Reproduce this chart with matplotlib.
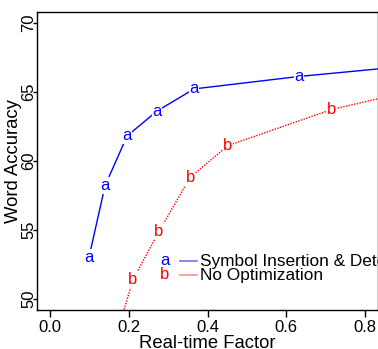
import matplotlib
matplotlib.use("Agg")
import matplotlib.pyplot as plt

plt.rcParams['font.family'] = ['Liberation Sans', 'DejaVu Sans']

# Data
rtf_opt = [0.099, 0.140, 0.196, 0.272, 0.366, 0.632, 1.000]
acc_opt = [53.0, 58.2, 61.8, 63.6, 65.2, 66.1, 67.1]
rtf_noopt = [0.170, 0.211, 0.277, 0.356, 0.452, 0.714, 1.000]
acc_noopt = [47.5, 51.4, 54.9, 58.8, 61.1, 63.7, 65.6]

label_opt = "Symbol Insertion & Determinization"
label_noopt = "No Optimization"
xticks = [0.0, 0.2, 0.4, 0.6, 0.8]
yticks = [50, 55, 60, 65, 70]
xlim = (-0.032, 0.832)
ylim = (49.2, 70.8)

fig = plt.figure(figsize=(3.78, 3.49), dpi=100)
ax = fig.add_axes([0.0987, 0.1117, 0.9005, 0.8553])

blue = '#0000FF'
red = '#FF0000'

ax.plot(rtf_opt, acc_opt, color=blue, lw=1.0, ls='-', zorder=2)
ax.plot(rtf_noopt, acc_noopt, color=red, lw=1.0, ls=(0, (1, 1)), zorder=2)


def inside(x, y):
    return xlim[0] <= x <= xlim[1] and ylim[0] <= y <= ylim[1]


for x, y in zip(rtf_opt, acc_opt):
    if inside(x, y):
        ax.text(x, y, 'a', color=blue, fontsize=12, ha='center', va='center',
                bbox=dict(facecolor='white', edgecolor='none', pad=0.5), zorder=3, clip_on=True)
for x, y in zip(rtf_noopt, acc_noopt):
    if inside(x, y):
        ax.text(x, y, 'b', color=red, fontsize=12, ha='center', va='center',
                bbox=dict(facecolor='white', edgecolor='none', pad=0.5), zorder=3, clip_on=True)

ax.set_xlim(*xlim)
ax.set_ylim(*ylim)
ax.set_xticks(xticks)
ax.set_xticklabels([f"{t:.1f}" for t in xticks])
ax.set_yticks(yticks)
ax.set_yticklabels([str(t) for t in yticks], rotation=90, va='center')
ax.tick_params(axis='x', direction='out', length=5, width=1, labelsize=12, pad=2, color='black')
ax.tick_params(axis='y', direction='out', length=3, width=1, labelsize=12, pad=-2, color='black')
for s in ax.spines.values():
    s.set_linewidth(1)
    s.set_color('black')

ax.set_xlabel("Real-time Factor", fontsize=13.3, va='baseline')
ax.xaxis.set_label_coords(0.5, -0.126)
ax.set_ylabel("Word Accuracy", fontsize=13.3, va='center')
ax.yaxis.set_label_coords(-0.070, 0.5)

# Legend (no frame), clipped at the plot region like the original
ax.text(0.375, 0.1675, 'a', color=blue, fontsize=12, ha='center', va='center',
        transform=ax.transAxes, clip_on=True)
ax.text(0.375, 0.1206, 'b', color=red, fontsize=12, ha='center', va='center',
        transform=ax.transAxes, clip_on=True)
ax.plot([0.419, 0.469], [0.164, 0.164], color='#7070FF', lw=1.2, transform=ax.transAxes)
ax.plot([0.419, 0.469], [0.117, 0.117], color='#FF9090', lw=1.2, transform=ax.transAxes)
ax.text(0.477, 0.164, label_opt, fontsize=12.4, ha='left', va='center',
        transform=ax.transAxes, clip_on=True)
ax.text(0.477, 0.114, label_noopt, fontsize=12.4, ha='left', va='center',
        transform=ax.transAxes, clip_on=True)

fig.savefig("out.png", dpi=100)
